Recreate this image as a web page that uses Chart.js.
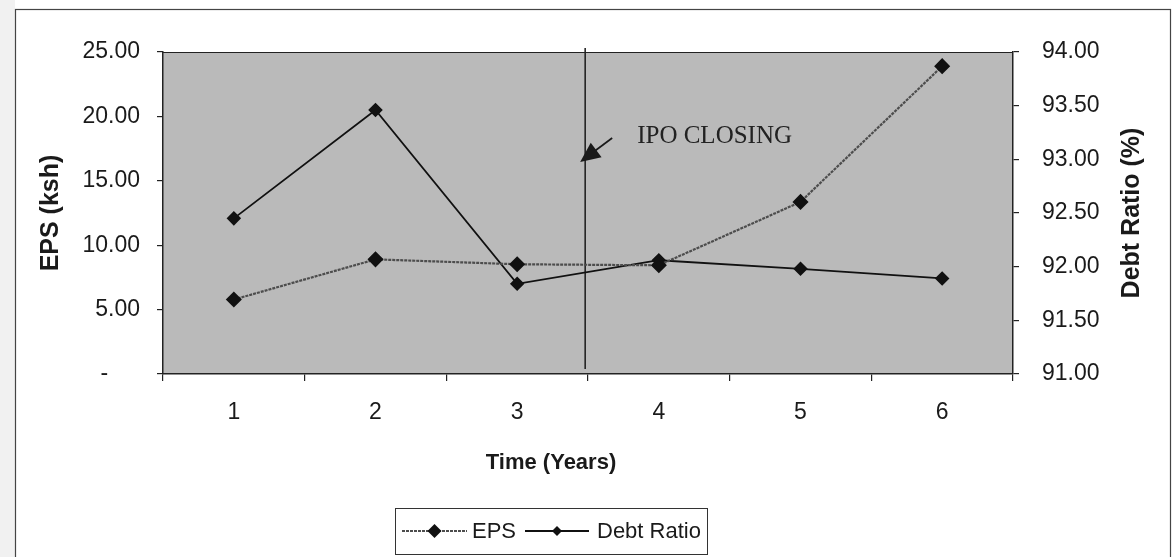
<!DOCTYPE html>
<html><head><meta charset="utf-8">
<script src="https://cdn.jsdelivr.net/npm/chart.js@4.4.1/dist/chart.umd.min.js"></script>
<style>html,body{margin:0;padding:0;background:#fff;overflow:hidden}</style>
</head><body>
<canvas id="c" width="1175" height="557"></canvas>
<script>
// ---- data ----
const years = ['1', '2', '3', '4', '5', '6'];
const epsValues = [5.78, 8.90, 8.52, 8.44, 13.36, 23.90];
const debtRatioValues = [92.45, 93.46, 91.84, 92.06, 91.98, 91.89];
const epsAxis = { min: 0, max: 25, step: 5 };
const debtAxis = { min: 91, max: 94, step: 0.5 };
const seriesNames = ['EPS', 'Debt Ratio'];
const axisTitles = { x: 'Time (Years)', left: 'EPS (ksh)', right: 'Debt Ratio (%)' };
const annotationText = 'IPO CLOSING';
const ipoIndexPosition = 2.48; // between year 3 and year 4

const SANS = '"Liberation Sans", Arial, sans-serif';
const SERIF = '"Liberation Serif", "Times New Roman", serif';
const PLOT = { left: 163, right: 1013, top: 52, bottom: 374 };

const decor = {
  id: 'decor',
  beforeDraw(chart) {
    const ctx = chart.ctx, a = chart.chartArea;
    ctx.save();
    ctx.fillStyle = '#ffffff';
    ctx.fillRect(0, 0, chart.width, chart.height);
    ctx.fillStyle = '#f1f1f1';
    ctx.fillRect(0, 0, 15, chart.height);
    ctx.strokeStyle = '#444';
    ctx.lineWidth = 1.2;
    ctx.strokeRect(15.5, 9.5, 1155, 600);
    ctx.fillStyle = '#bababa';
    ctx.fillRect(a.left, a.top, a.right - a.left, a.bottom - a.top);
    ctx.restore();
  },
  beforeDatasetsDraw(chart) {
    const ctx = chart.ctx, a = chart.chartArea;
    const lx = chart.scales.x.getPixelForValue(ipoIndexPosition);
    ctx.save();
    ctx.strokeStyle = '#1a1a1a';
    ctx.lineWidth = 1.5;
    ctx.beginPath();
    ctx.moveTo(lx, a.top - 4);
    ctx.lineTo(lx, a.bottom - 5);
    ctx.stroke();
    ctx.restore();
  },
  afterDraw(chart) {
    const ctx = chart.ctx, a = chart.chartArea;
    const H = Chart.helpers;
    ctx.save();
    // plot frame top
    ctx.strokeStyle = '#222';
    ctx.lineWidth = 1.2;
    ctx.beginPath();
    ctx.moveTo(a.left, a.top + 0.5);
    ctx.lineTo(a.right, a.top + 0.5);
    ctx.stroke();

    // axis titles
    ctx.fillStyle = '#1a1a1a';
    ctx.textAlign = 'center';
    ctx.textBaseline = 'middle';
    ctx.font = 'bold 22px ' + SANS;
    ctx.fillText(axisTitles.x, 551, 463);
    ctx.font = 'bold 25px ' + SANS;
    const midY = (a.top + a.bottom) / 2;
    ctx.save();
    ctx.translate(51, midY);
    ctx.rotate(-Math.PI / 2);
    ctx.fillText(axisTitles.left, 0, 0);
    ctx.restore();
    ctx.save();
    ctx.translate(1132, midY);
    ctx.rotate(-Math.PI / 2);
    ctx.fillText(axisTitles.right, 0, 0);
    ctx.restore();

    // IPO annotation
    const lx = chart.scales.x.getPixelForValue(ipoIndexPosition);
    const tip = { x: lx - 5, y: a.top + 110 };
    const tail = { x: lx + 27, y: a.top + 86 };
    const ang = Math.atan2(tip.y - tail.y, tip.x - tail.x);
    ctx.strokeStyle = '#1a1a1a';
    ctx.fillStyle = '#1a1a1a';
    ctx.lineWidth = 1.7;
    ctx.beginPath();
    ctx.moveTo(tail.x, tail.y);
    ctx.lineTo(tip.x - 12 * Math.cos(ang), tip.y - 12 * Math.sin(ang));
    ctx.stroke();
    const hl = 20, hw = 9;
    const bxp = tip.x - hl * Math.cos(ang), byp = tip.y - hl * Math.sin(ang);
    ctx.beginPath();
    ctx.moveTo(tip.x, tip.y);
    ctx.lineTo(bxp + hw * Math.sin(ang), byp - hw * Math.cos(ang));
    ctx.lineTo(bxp - hw * Math.sin(ang), byp + hw * Math.cos(ang));
    ctx.closePath();
    ctx.fill();
    ctx.font = '25px ' + SERIF;
    ctx.textAlign = 'left';
    ctx.textBaseline = 'alphabetic';
    ctx.fillStyle = '#222';
    ctx.fillText(annotationText, lx + 52, a.top + 91);

    // legend
    const bx = 395, by = 508, bw = 312, bh = 46;
    ctx.fillStyle = '#fff';
    ctx.fillRect(bx, by, bw, bh);
    ctx.strokeStyle = '#333';
    ctx.lineWidth = 1;
    ctx.strokeRect(bx + 0.5, by + 0.5, bw, bh);
    const cy = by + bh / 2;
    const ds = chart.data.datasets;
    const items = [
      { x0: 402, x1: 467, tx: 472, d: ds[0], r: 7 },
      { x0: 525, x1: 589, tx: 597, d: ds[1], r: 5 }
    ];
    ctx.font = '22px ' + SANS;
    ctx.textBaseline = 'middle';
    items.forEach(it => {
      ctx.strokeStyle = it.d.borderColor;
      ctx.lineWidth = it.d.borderWidth;
      ctx.setLineDash(it.d.borderDash || []);
      ctx.beginPath();
      ctx.moveTo(it.x0, cy);
      ctx.lineTo(it.x1, cy);
      ctx.stroke();
      ctx.setLineDash([]);
      ctx.fillStyle = it.d.pointBackgroundColor;
      ctx.strokeStyle = it.d.pointBorderColor;
      ctx.lineWidth = 1;
      H.drawPoint(ctx, { pointStyle: 'rectRot', radius: it.r, rotation: 0 }, (it.x0 + it.x1) / 2, cy);
      ctx.fillStyle = '#1a1a1a';
      ctx.fillText(it.d.label, it.tx, cy + 1);
    });
    ctx.restore();
  }
};

const tickFont = { family: SANS, size: 23 };

new Chart(document.getElementById('c'), {
  type: 'line',
  data: {
    labels: years,
    datasets: [
      {
        label: seriesNames[0], data: epsValues, yAxisID: 'y',
        borderColor: '#4d4d4d', borderWidth: 2.2, borderDash: [3, 1],
        pointStyle: 'rectRot', pointRadius: 6.5, pointBackgroundColor: '#111', pointBorderColor: '#111',
        tension: 0, fill: false
      },
      {
        label: seriesNames[1], data: debtRatioValues, yAxisID: 'y1',
        borderColor: '#111', borderWidth: 1.8,
        pointStyle: 'rectRot', pointRadius: 6, pointBackgroundColor: '#111', pointBorderColor: '#111',
        tension: 0, fill: false
      }
    ]
  },
  options: {
    responsive: false, devicePixelRatio: 1, animation: false,
    layout: { padding: { left: 0, right: 0, top: PLOT.top, bottom: 557 - PLOT.bottom - 60 } },
    plugins: { legend: { display: false }, tooltip: { enabled: false } },
    scales: {
      x: {
        type: 'category', offset: true,
        grid: { offset: true, drawOnChartArea: false, drawTicks: true, tickLength: 7, color: '#222', lineWidth: 1.2 },
        border: { display: true, color: '#222', width: 1.5 },
        ticks: { font: tickFont, color: '#1a1a1a', padding: 18, maxRotation: 0 },
        afterFit(s) { s.height = 60; }
      },
      y: {
        position: 'left', min: epsAxis.min, max: epsAxis.max,
        grid: { drawOnChartArea: false, drawTicks: true, tickLength: 6, color: '#222', lineWidth: 1.2 },
        border: { display: true, color: '#222', width: 1.5 },
        ticks: {
          stepSize: epsAxis.step, font: tickFont, color: '#1a1a1a', padding: 17,
          callback: v => v === 0 ? '-\u00A0\u00A0\u00A0\u00A0\u00A0' : Number(v).toFixed(2)
        },
        afterFit(s) { s.width = PLOT.left; }
      },
      y1: {
        position: 'right', min: debtAxis.min, max: debtAxis.max,
        grid: { drawOnChartArea: false, drawTicks: true, tickLength: 6, color: '#222', lineWidth: 1.2 },
        border: { display: true, color: '#222', width: 1.5 },
        ticks: {
          stepSize: debtAxis.step, font: tickFont, color: '#1a1a1a', padding: 23,
          callback: v => Number(v).toFixed(2)
        },
        afterFit(s) { s.width = 1175 - PLOT.right; }
      }
    }
  },
  plugins: [decor]
});
</script>
</body></html>
